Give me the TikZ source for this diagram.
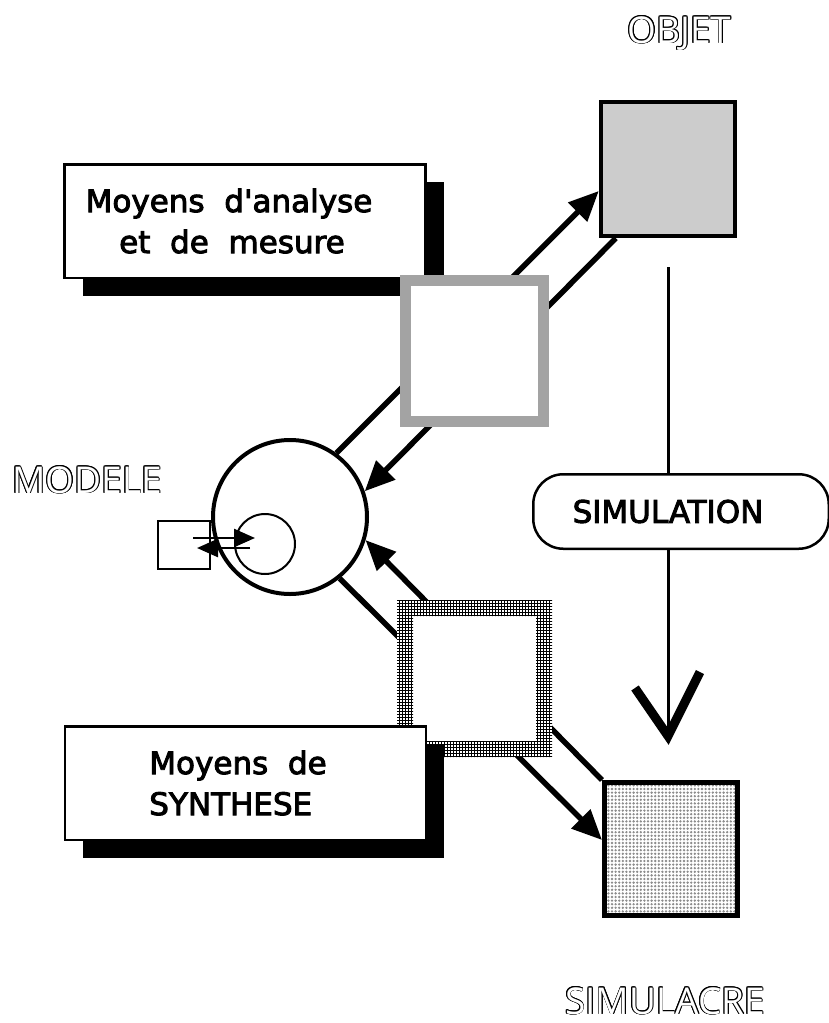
\documentclass[tikz,border=0pt]{standalone}
\usepackage{fontspec}
\newfontfamily\boxfont[FakeBold=3]{DejaVu Sans}
\newfontfamily\labelfont{Open Sans}
\usetikzlibrary{arrows.meta,patterns,shadows}
\pgfdeclarepatternformonly{mygrid}{\pgfqpoint{-1pt}{-1pt}}{\pgfqpoint{4pt}{4pt}}{\pgfqpoint{3pt}{3pt}}{%
  \pgfsetlinewidth{0.9pt}%
  \pgfpathmoveto{\pgfqpoint{0pt}{-0.1pt}}\pgfpathlineto{\pgfqpoint{0pt}{3.1pt}}%
  \pgfpathmoveto{\pgfqpoint{-0.1pt}{0pt}}\pgfpathlineto{\pgfqpoint{3.1pt}{0pt}}%
  \pgfusepath{stroke}}
\pgfdeclarepatternformonly{mydots}{\pgfqpoint{-1.5pt}{-1.5pt}}{\pgfqpoint{1.5pt}{1.5pt}}{\pgfqpoint{3.6pt}{3.6pt}}{%
  \pgfpathcircle{\pgfqpoint{0pt}{0pt}}{1.3pt}\pgfusepath{fill}}
\definecolor{framegray}{RGB}{163,163,163}
\definecolor{objgray}{RGB}{204,204,204}
\definecolor{dotgray}{RGB}{140,140,140}
\newcommand\olt[1]{%
  \foreach \ang in {0,30,...,330}{%
    \pgfmathsetlengthmacro\odx{0.8pt*cos(\ang)}%
    \pgfmathsetlengthmacro\ody{0.8pt*sin(\ang)}%
    \rlap{\hspace*{\odx}\raisebox{\ody}{\textcolor{black}{#1}}}}%
  \textcolor{white}{#1}}
\begin{document}
\begin{tikzpicture}[x=1pt,y=-1pt,
  boxtxt/.style={font=\boxfont\fontsize{31pt}{41pt}\selectfont},
  outlbl/.style={font=\labelfont\fontsize{37pt}{40pt}\selectfont, inner sep=0pt, anchor=base},
  framebox/.style={draw, line width=2.5pt, fill=white, minimum width=361pt, minimum height=113.5pt, inner sep=0pt,
    drop shadow={shadow xshift=18pt, shadow yshift=-18pt, fill=black, opacity=1}},
  conn/.style={line width=5.5pt},
  bigtip/.style={-{Triangle[length=30pt,width=26pt]}},
  smalltip/.style={line width=2.5pt, -{Triangle[length=21pt,width=18pt]}},
]
\useasboundingbox[fill=white] (0,0) rectangle (828,1023);

% main nodes
\node[draw, line width=4.5pt, fill=objgray, minimum size=134pt, inner sep=0pt] (objet) at (668,169) {};
\node[draw, line width=5pt, preaction={fill=white}, pattern=mydots, pattern color=dotgray,
      minimum size=133pt, inner sep=0pt] (simulacre) at (671,849) {};
\node[draw, circle, line width=4pt, fill=white, minimum size=154pt, inner sep=0pt] (modele) at (290,517) {};
\node[draw, circle, line width=2pt, minimum size=60pt, inner sep=0pt] (innerc) at (265,544) {};
\node[draw, line width=2pt, fill=white, minimum width=52pt, minimum height=48pt, inner sep=0pt] (smallsq) at (184,545) {};

% connectors
\draw[conn, bigtip] (modele.54) -- ([yshift=-22pt]objet.west);
\draw[conn, bigtip] ([xshift=17pt]objet.south west) -- (modele.19);
\draw[conn, bigtip] (simulacre.north west) -- (modele.-17);
\draw[conn, bigtip] (modele.-51) -- ([yshift=9pt]simulacre.west);

% upper box and gray frame
\node[framebox, boxtxt, align=center] (analyse) at (245,221)
  {Moyens~~d'analyse\hspace*{32pt}\mbox{}\\et~~de~~mesure\hspace*{26pt}\mbox{}};
\node[draw=framegray, line width=11pt, fill=white, minimum width=138pt, minimum height=141pt, inner sep=0pt] (anasq) at (474,350.5) {};

% crosshatched frame and lower box
\node[fill=white, minimum width=155pt, minimum height=157pt, inner sep=0pt, outer sep=0pt] (synsq) at (474.5,678.5) {};
\fill[pattern=mygrid, pattern color=black, even odd rule]
  (synsq.south west) rectangle (synsq.north east)
  ([shift={(16,-16)}]synsq.south west) rectangle ([shift={(-16,16)}]synsq.north east);
\node[framebox, boxtxt, align=left] (synth) at (245.5,783) {Moyens~~de\hspace*{15pt}\mbox{}\\SYNTHESE};

% simulation
\node[draw, line width=2.5pt, rounded corners=30pt, fill=white, minimum width=295.5pt, minimum height=74.5pt,
      inner sep=0pt, boxtxt] (sim) at (681,511.5) {SIMULATION\hspace*{26pt}\mbox{}};
\coordinate (vtop) at (668,267);
\coordinate (vtip) at (668,736);
\coordinate (vl) at (635,688);
\coordinate (vr) at (700,672);
\draw[line width=3pt] (vtop) -- (vtop |- sim.north);
\draw[line width=3pt] (vtop |- sim.south) -- (vtip);
\draw[line width=9pt, line join=miter] (vl) -- (vtip) -- (vr);

% small arrows
\coordinate (a1s) at (193,538);
\coordinate (a1e) at (255,538);
\coordinate (a2s) at (250,548);
\coordinate (a2e) at (197,548);
\draw[smalltip] (a1s) -- (a1e);
\draw[smalltip] (a2s) -- (a2e);

% outline labels
\node[outlbl] (lobjet) at (679.5,43) {\olt{OBJET}};
\node[outlbl] (lmodele) at (87,493) {\olt{MODELE}};
\node[outlbl] (lsimu) at (665,1014) {\olt{SIMULACRE}};
\end{tikzpicture}
\end{document}
